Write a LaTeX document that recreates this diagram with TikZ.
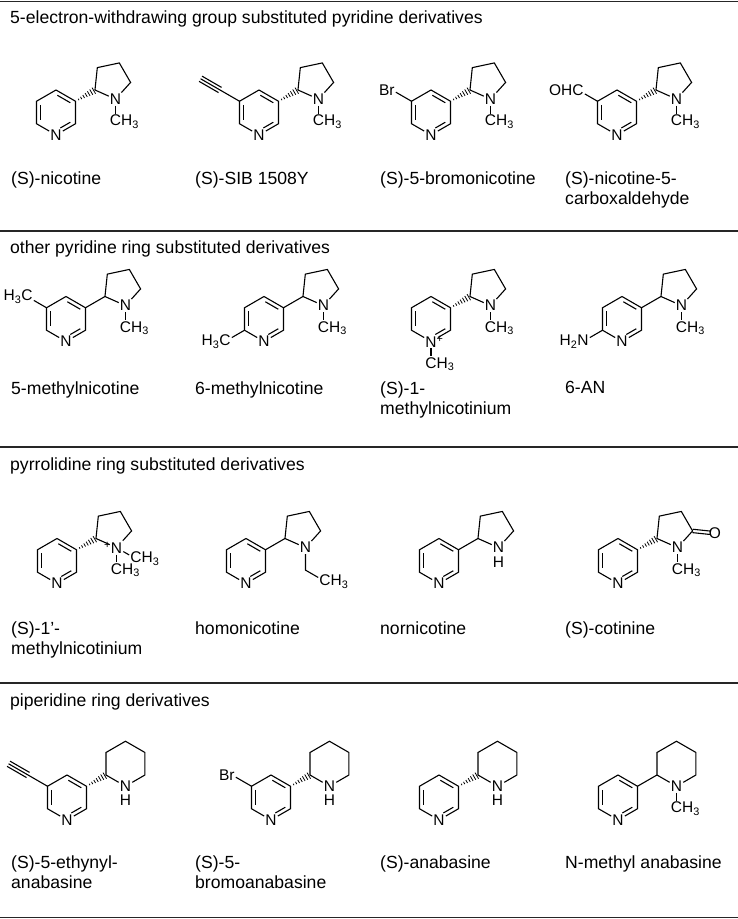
\documentclass[tikz,border=0pt]{standalone}
\usepackage{fontspec}
\setmainfont{Liberation Sans}
\usetikzlibrary{calc}
\usetikzlibrary{positioning}

\newcommand{\bondlen}{22.5}
\newcommand{\penrad}{19.14}
\newcommand{\atomfont}{\fontsize{15.5}{15.5}\selectfont}
\newcommand{\headfont}{\fontsize{17.6}{20.5}\selectfont}
\newcommand{\methylC}{C\rlap{H\textsubscript{3}}}

% pyridine ring: prefix, centre, label of N
\newcommand{\pyridine}[3]{%
	\coordinate (#1-c) at (#2);
	\node [atom] (#1-n) at ($(#1-c)+(-90:\bondlen)$) {#3};
	\foreach \k/\ang in {2/-30,3/30,4/90,5/150,6/210}
		\coordinate (#1-\k) at ($(#1-c)+(\ang:\bondlen)$);
	\draw [bond] (#1-n) -- (#1-2) -- (#1-3) -- (#1-4) -- (#1-5) -- (#1-6) -- (#1-n);
	\draw [innerbond,shorten >=5pt] ($(#1-2)!.2!(#1-c)$) -- ($(#1-n)!.2!(#1-c)$);
	\draw [innerbond] ($(#1-3)!.2!(#1-c)$) -- ($(#1-4)!.2!(#1-c)$);
	\draw [innerbond] ($(#1-5)!.2!(#1-c)$) -- ($(#1-6)!.2!(#1-c)$);
}

% pyrrolidine on C3: prefix, pyridine prefix, label of N
\newcommand{\pyrrolidine}[3]{%
	\coordinate (#1-a) at ($(#2-3)+(30:\bondlen)$);
	\coordinate (#1-o) at ($(#1-a)+(30:\penrad)$);
	\node [atom] (#1-n) at ($(#1-o)+(282:\penrad)$) {#3};
	\foreach \k/\ang in {5/354,4/66,3/138}
		\coordinate (#1-\k) at ($(#1-o)+(\ang:\penrad)$);
	\draw [bond] (#1-n) -- (#1-a) -- (#1-3) -- (#1-4) -- (#1-5) -- (#1-n);
}

% piperidine on C3: prefix, pyridine prefix, label of N
\newcommand{\piperidine}[3]{%
	\coordinate (#1-a) at ($(#2-3)+(30:\bondlen)$);
	\coordinate (#1-o) at ($(#1-a)+(30:\bondlen)$);
	\node [atom] (#1-n) at ($(#1-o)+(270:\bondlen)$) {#3};
	\foreach \k/\ang in {6/330,5/30,4/90,3/150}
		\coordinate (#1-\k) at ($(#1-o)+(\ang:\bondlen)$);
	\draw [bond] (#1-n) -- (#1-a) -- (#1-3) -- (#1-4) -- (#1-5) -- (#1-6) -- (#1-n);
}

% hashed wedge, narrow end first
\newcommand{\hashlink}[2]{%
	\foreach \pos [evaluate=\pos as \hw using 0.3+3.4*\pos] in {0.16,0.29,...,0.95}
		\draw [hashline] ($(#1)!\pos!(#2)!\hw pt!90:(#2)$) -- ($(#1)!\pos!(#2)!\hw pt!-90:(#2)$);
}

% methyl under a ring N
\newcommand{\nmethyl}[1]{%
	\node [atom] (#1-m) at ($(#1-n)+(0,-\bondlen)$) {\methylC};
	\draw [bond] (#1-n) -- (#1-m);
}

% ethynyl on C5
\newcommand{\ethynyl}[1]{%
	\coordinate (#1-e1) at ($(#1-5)+(150:\bondlen)$);
	\coordinate (#1-e2) at ($(#1-e1)+(150:\bondlen)$);
	\draw [bond] (#1-5) -- (#1-e1) -- (#1-e2);
	\draw [bond] ($(#1-e1)!3pt!90:(#1-e2)$) -- ($(#1-e2)!3pt!-90:(#1-e1)$);
	\draw [bond] ($(#1-e1)!3pt!-90:(#1-e2)$) -- ($(#1-e2)!3pt!90:(#1-e1)$);
}

% group on a ring carbon: name, carbon, angle, text
\newcommand{\subst}[4]{%
	\node [atom] (#1) at ($(#2)+(#3:\bondlen)$) {#4};
	\draw [bond] (#2) -- (#1);
}

\begin{document}
\begin{tikzpicture}[x=1pt,y=1pt,
		bond/.style={line width=1.1pt},
		innerbond/.style={bond,shorten <=1.5pt,shorten >=1.5pt},
		hashline/.style={line width=0.8pt},
		atom/.style={inner sep=1pt,font=\atomfont},
		heading/.style={anchor=base west,inner sep=0pt,font=\headfont},
		cpdlabel/.style={anchor=north west,align=left,inner sep=0pt,font=\headfont},
		tablerule/.style={line width=1.5pt,black!85}]
	\useasboundingbox (0,0) rectangle (738,919);
	\foreach \y in {917.5,688,472,236,1.5}
		\draw [tablerule] (0,\y) -- (738,\y);

	\node [heading] (head1) at (10,895) {5-electron-withdrawing group substituted pyridine derivatives};
	\node [heading] (head2) at (10,665) {other pyridine ring substituted derivatives};
	\node [heading] (head3) at (10,448) {pyrrolidine ring substituted derivatives};
	\node [heading] (head4) at (10,212) {piperidine ring derivatives};

	% row 1
	\pyridine{p1}{56,806.5}{N}
	\pyrrolidine{r1}{p1}{N}
	\hashlink{p1-3}{r1-a}
	\nmethyl{r1}

	\pyridine{p2}{259,806.5}{N}
	\ethynyl{p2}
	\pyrrolidine{r2}{p2}{N}
	\hashlink{p2-3}{r2-a}
	\nmethyl{r2}

	\pyridine{p3}{431,806.5}{N}
	\subst{p3-br}{p3-5}{150}{\llap{B}r}
	\pyrrolidine{r3}{p3}{N}
	\hashlink{p3-3}{r3-a}
	\nmethyl{r3}

	\pyridine{p4}{617,806.5}{N}
	\subst{p4-cho}{p4-5}{150}{\llap{OH}C}
	\pyrrolidine{r4}{p4}{N}
	\hashlink{p4-3}{r4-a}
	\nmethyl{r4}

	% row 2
	\pyridine{p5}{66,600}{N}
	\subst{p5-me}{p5-5}{150}{\llap{H\textsubscript{3}}C}
	\pyrrolidine{r5}{p5}{N}
	\draw [bond] (p5-3) -- (r5-a);
	\nmethyl{r5}

	\pyridine{p6}{264,600}{N}
	\subst{p6-me}{p6-6}{210}{\llap{H\textsubscript{3}}C}
	\pyrrolidine{r6}{p6}{N}
	\draw [bond] (p6-3) -- (r6-a);
	\nmethyl{r6}

	\pyridine{p7}{431,600}{N\rlap{\textsuperscript{+}}}
	\nmethyl{p7}
	\pyrrolidine{r7}{p7}{N}
	\hashlink{p7-3}{r7-a}
	\nmethyl{r7}

	\pyridine{p8}{622,600}{N}
	\subst{p8-nh}{p8-6}{210}{\llap{H\textsubscript{2}}N}
	\pyrrolidine{r8}{p8}{N}
	\draw [bond] (p8-3) -- (r8-a);
	\nmethyl{r8}

	% row 3
	\pyridine{p9}{57,358}{N}
	\pyrrolidine{r9}{p9}{\llap{\textsuperscript{+}}N}
	\hashlink{p9-3}{r9-a}
	\nmethyl{r9}
	\node [atom] (r9-m2) at ($(r9-n)+(-30:\bondlen)$) {\methylC};
	\draw [bond] (r9-n) -- (r9-m2);

	\pyridine{p10}{246,358}{N}
	\pyrrolidine{r10}{p10}{N}
	\draw [bond] (p10-3) -- (r10-a);
	\coordinate (r10-ch2) at ($(r10-n)+(0,-\bondlen)$);
	\node [atom] (r10-m) at ($(r10-ch2)+(-30:\bondlen)$) {\methylC};
	\draw [bond] (r10-n) -- (r10-ch2) -- (r10-m);

	\pyridine{p11}{439,358}{N}
	\pyrrolidine{r11}{p11}{N}
	\draw [bond] (p11-3) -- (r11-a);
	\node [atom,below=1pt of r11-n] (r11-h) {H};

	\pyridine{p12}{618,358}{N}
	\pyrrolidine{r12}{p12}{N}
	\hashlink{p12-3}{r12-a}
	\nmethyl{r12}
	\node [atom] (r12-ox) at ($(r12-5)+(354:\bondlen)$) {O};
	\draw [bond,shorten >=5pt] ($(r12-5)!1.7pt!90:(r12-ox)$) -- ($(r12-ox)!1.7pt!-90:(r12-5)$);
	\draw [bond,shorten >=5pt] ($(r12-5)!1.7pt!-90:(r12-ox)$) -- ($(r12-ox)!1.7pt!90:(r12-5)$);

	% row 4
	\pyridine{p13}{67,121.5}{N}
	\ethynyl{p13}
	\piperidine{s13}{p13}{N}
	\hashlink{p13-3}{s13-a}
	\node [atom,below=1pt of s13-n] (s13-h) {H};

	\pyridine{p14}{271,121.5}{N}
	\subst{p14-br}{p14-5}{150}{\llap{B}r}
	\piperidine{s14}{p14}{N}
	\hashlink{p14-3}{s14-a}
	\node [atom,below=1pt of s14-n] (s14-h) {H};

	\pyridine{p15}{439,121.5}{N}
	\piperidine{s15}{p15}{N}
	\hashlink{p15-3}{s15-a}
	\node [atom,below=1pt of s15-n] (s15-h) {H};

	\pyridine{p16}{618,121.5}{N}
	\piperidine{s16}{p16}{N}
	\draw [bond] (p16-3) -- (s16-a);
	\nmethyl{s16}

	% names
	\node [cpdlabel] (lab1) at (11,747.7) {(S)-nicotine};
	\node [cpdlabel] (lab2) at (195,747.7) {(S)-SIB 1508Y};
	\node [cpdlabel] (lab3) at (380,747.7) {(S)-5-bromonicotine};
	\node [cpdlabel] (lab4) at (565,747.7) {(S)-nicotine-5-\\carboxaldehyde};
	\node [cpdlabel] (lab5) at (11,537.7) {5-methylnicotine};
	\node [cpdlabel] (lab6) at (195,537.7) {6-methylnicotine};
	\node [cpdlabel] (lab7) at (380,537.7) {(S)-1-\\methylnicotinium};
	\node [cpdlabel] (lab8) at (565,537.7) {6-AN};
	\node [cpdlabel] (lab9) at (11,297.7) {(S)-1'-\\methylnicotinium};
	\node [cpdlabel] (lab10) at (195,297.7) {homonicotine};
	\node [cpdlabel] (lab11) at (380,297.7) {nornicotine};
	\node [cpdlabel] (lab12) at (565,297.7) {(S)-cotinine};
	\node [cpdlabel] (lab13) at (11,63.7) {(S)-5-ethynyl-\\anabasine};
	\node [cpdlabel] (lab14) at (195,63.7) {(S)-5-\\bromoanabasine};
	\node [cpdlabel] (lab15) at (380,63.7) {(S)-anabasine};
	\node [cpdlabel] (lab16) at (565,63.7) {N-methyl anabasine};
\end{tikzpicture}
\end{document}
